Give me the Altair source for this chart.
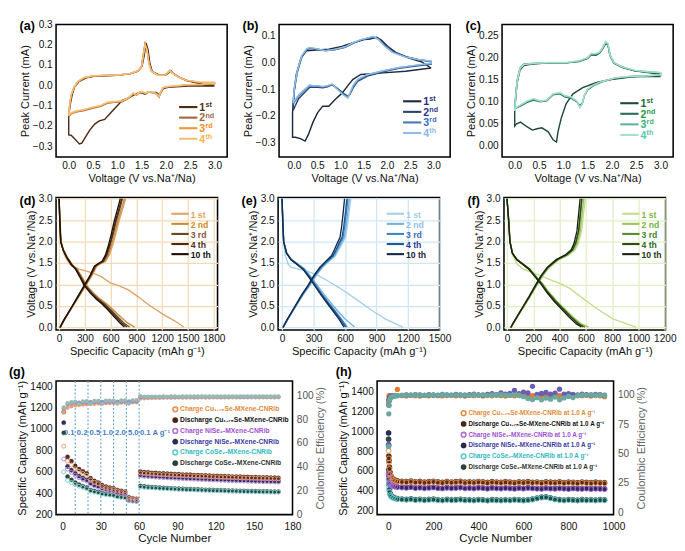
import altair as alt
import pandas as pd

FONT = "Liberation Sans"
INK = "#111111"

# ======================= (a) CV Cu1.75Se-MXene-CNRib =======================
A1_V = [3.0, 2.47, 2.04, 1.94, 1.87, 1.80, 1.63, 1.57, 1.47, 1.37, 1.23, 1.10, 1.00, 0.86, 0.74, 0.63, 0.54, 0.44, 0.36, 0.27, 0.22, 0.13, 0.05, 0.0,
        0.0, 0.03, 0.07, 0.12, 0.21, 0.36, 0.52, 1.00, 1.26, 1.43, 1.51, 1.55, 1.59, 1.63, 1.67, 1.72, 1.87, 1.99, 2.06, 2.10, 2.15, 2.26, 2.44, 2.71, 3.0]
A1_I = [-0.003, -0.003, -0.009, -0.016, -0.047, -0.034, -0.034, -0.043, -0.034, -0.043, -0.062, -0.074, -0.100, -0.136, -0.167, -0.174, -0.189, -0.217, -0.248, -0.284, -0.288, -0.264, -0.245, -0.243,
        -0.155, -0.096, -0.047, -0.008, 0.019, 0.037, 0.045, 0.050, 0.057, 0.070, 0.096, 0.143, 0.209, 0.178, 0.109, 0.068, 0.050, 0.050, 0.062, 0.073, 0.059, 0.042, 0.023, 0.008, -0.003]
A_V = [0.0, 0.02, 0.05, 0.11, 0.19, 0.32, 0.49, 0.73, 1.00, 1.26, 1.43, 1.50, 1.53, 1.57, 1.61, 1.65, 1.70, 1.84, 1.97, 2.04, 2.08, 2.14, 2.24, 2.41, 2.68, 3.0,
       3.0, 2.74, 2.47, 2.20, 2.04, 1.94, 1.88, 1.86, 1.80, 1.70, 1.63, 1.59, 1.53, 1.45, 1.40, 1.33, 1.23, 1.10, 0.93, 0.79, 0.66, 0.49, 0.32, 0.15, 0.05, 0.0]
A2_I = [-0.153, -0.097, -0.050, -0.010, 0.018, 0.037, 0.045, 0.049, 0.050, 0.058, 0.071, 0.095, 0.145, 0.206, 0.180, 0.112, 0.071, 0.050, 0.050, 0.063, 0.073, 0.060, 0.043, 0.025, 0.015, 0.012,
        0.008, 0.004, 0.002, -0.004, -0.007, -0.013, -0.041, -0.057, -0.041, -0.035, -0.032, -0.041, -0.035, -0.036, -0.048, -0.041, -0.064, -0.080, -0.083, -0.088, -0.103, -0.112, -0.123, -0.131, -0.140, -0.153]
A3_I = [-0.150, -0.095, -0.048, -0.009, 0.019, 0.038, 0.046, 0.049, 0.050, 0.058, 0.072, 0.094, 0.142, 0.203, 0.177, 0.110, 0.070, 0.050, 0.050, 0.062, 0.073, 0.059, 0.043, 0.025, 0.016, 0.014,
        0.010, 0.005, 0.003, -0.003, -0.006, -0.012, -0.039, -0.055, -0.040, -0.034, -0.031, -0.040, -0.034, -0.034, -0.047, -0.039, -0.062, -0.078, -0.081, -0.085, -0.100, -0.109, -0.120, -0.128, -0.137, -0.150]
A4_I = [-0.147, -0.093, -0.047, -0.008, 0.020, 0.039, 0.047, 0.050, 0.051, 0.059, 0.073, 0.093, 0.140, 0.200, 0.175, 0.109, 0.070, 0.050, 0.050, 0.062, 0.072, 0.059, 0.043, 0.026, 0.017, 0.016,
        0.012, 0.006, 0.004, -0.002, -0.005, -0.011, -0.037, -0.053, -0.039, -0.033, -0.030, -0.039, -0.033, -0.033, -0.045, -0.038, -0.060, -0.076, -0.079, -0.083, -0.098, -0.107, -0.118, -0.126, -0.135, -0.147]
A_COLORS = ["#4b2c17", "#a0693f", "#ee9a3a", "#f5be78"]
A_TEXT = ["#4d2f1c", "#9c6b45", "#f08c1e", "#f7b44c"]

# ======================= (b) CV NiSe2-MXene-CNRib =======================
B1_V = [2.95, 2.40, 1.92, 1.44, 1.27, 1.16, 1.03, 0.89, 0.75, 0.62, 0.51, 0.41, 0.31, 0.24, 0.14, 0.03, -0.03,
        -0.03, 0.0, 0.05, 0.15, 0.27, 0.48, 0.75, 1.03, 1.27, 1.51, 1.64, 1.78, 1.88, 2.02, 2.19, 2.47, 2.74, 2.95]
B1_I = [-0.020, -0.032, -0.038, -0.044, -0.062, -0.086, -0.115, -0.137, -0.163, -0.163, -0.187, -0.223, -0.270, -0.294, -0.285, -0.280, -0.280,
        -0.187, -0.115, -0.044, 0.018, 0.045, 0.048, 0.051, 0.061, 0.075, 0.087, 0.089, 0.096, 0.085, 0.061, 0.039, 0.018, 0.004, -0.020]
B_V = [-0.02, 0.01, 0.07, 0.17, 0.27, 0.33, 0.45, 0.68, 0.89, 1.10, 1.27, 1.44, 1.58, 1.71, 1.82, 1.95, 2.12, 2.40, 2.67, 2.95,
       2.95, 2.67, 2.26, 1.92, 1.58, 1.37, 1.27, 1.20, 1.16, 1.06, 0.92, 0.82, 0.72, 0.62, 0.51, 0.41, 0.34, 0.24, 0.10, -0.02]
B2_I = [-0.180, -0.100, -0.038, 0.022, 0.048, 0.054, 0.052, 0.046, 0.050, 0.058, 0.073, 0.085, 0.091, 0.095, 0.090, 0.066, 0.042, 0.023, 0.012, 0.004,
        -0.005, -0.011, -0.021, -0.034, -0.050, -0.070, -0.095, -0.120, -0.126, -0.114, -0.094, -0.083, -0.090, -0.094, -0.092, -0.092, -0.092, -0.110, -0.135, -0.180]
B3_I = [-0.155, -0.095, -0.034, 0.025, 0.050, 0.056, 0.053, 0.045, 0.050, 0.059, 0.074, 0.086, 0.092, 0.097, 0.088, 0.064, 0.040, 0.022, 0.012, 0.005,
        -0.003, -0.009, -0.019, -0.031, -0.046, -0.065, -0.090, -0.118, -0.130, -0.118, -0.096, -0.081, -0.088, -0.091, -0.088, -0.088, -0.086, -0.102, -0.126, -0.155]
B4_I = [-0.150, -0.092, -0.032, 0.027, 0.051, 0.057, 0.054, 0.045, 0.051, 0.060, 0.075, 0.087, 0.093, 0.099, 0.087, 0.063, 0.039, 0.021, 0.012, 0.006,
        -0.002, -0.008, -0.018, -0.030, -0.044, -0.062, -0.086, -0.115, -0.133, -0.121, -0.098, -0.080, -0.086, -0.089, -0.086, -0.086, -0.083, -0.098, -0.121, -0.150]
B_COLORS = ["#1e2a40", "#2e4470", "#4a7ab8", "#8ebde6"]
B_TEXT = ["#2e2e80", "#2e3890", "#3a70c0", "#8ab8e8"]

# ======================= (c) CV CoSe2-MXene-CNRib =======================
C1_V = [3.0, 2.47, 1.94, 1.67, 1.40, 1.20, 1.06, 0.96, 0.89, 0.86, 0.79, 0.69, 0.56, 0.46, 0.36, 0.26, 0.12, 0.04, 0.0,
        0.0, 0.02, 0.05, 0.11, 0.19, 0.39, 0.73, 1.06, 1.33, 1.50, 1.57, 1.67, 1.74, 1.80, 1.87, 1.92, 1.96, 2.04, 2.21, 2.47, 2.74, 3.0]
C1_I = [0.157, 0.157, 0.150, 0.143, 0.132, 0.118, 0.096, 0.064, 0.032, 0.009, 0.014, 0.032, 0.041, 0.039, 0.036, 0.043, 0.054, 0.050, 0.045,
        0.076, 0.108, 0.143, 0.172, 0.182, 0.186, 0.188, 0.188, 0.192, 0.199, 0.206, 0.205, 0.210, 0.220, 0.235, 0.228, 0.205, 0.188, 0.178, 0.170, 0.166, 0.162]
C_V = [0.0, 0.02, 0.05, 0.11, 0.19, 0.39, 0.73, 1.06, 1.33, 1.50, 1.57, 1.67, 1.74, 1.80, 1.87, 1.92, 1.96, 2.04, 2.21, 2.47, 2.74, 3.0,
       3.0, 2.74, 2.34, 2.07, 1.80, 1.63, 1.50, 1.43, 1.39, 1.34, 1.28, 1.16, 1.03, 0.93, 0.79, 0.66, 0.52, 0.39, 0.26, 0.12, 0.02, 0.0]
C2_I = [0.083, 0.113, 0.148, 0.176, 0.185, 0.186, 0.188, 0.188, 0.191, 0.198, 0.207, 0.207, 0.210, 0.218, 0.231, 0.229, 0.205, 0.188, 0.178, 0.170, 0.167, 0.164,
        0.160, 0.158, 0.156, 0.153, 0.145, 0.137, 0.127, 0.113, 0.097, 0.091, 0.100, 0.108, 0.111, 0.118, 0.116, 0.102, 0.100, 0.104, 0.099, 0.090, 0.085, 0.083]
C3_I = [0.081, 0.112, 0.147, 0.176, 0.185, 0.187, 0.188, 0.188, 0.192, 0.199, 0.208, 0.208, 0.211, 0.220, 0.234, 0.231, 0.206, 0.189, 0.179, 0.171, 0.168, 0.166,
        0.161, 0.159, 0.157, 0.154, 0.146, 0.138, 0.128, 0.113, 0.095, 0.088, 0.101, 0.110, 0.113, 0.120, 0.117, 0.103, 0.101, 0.106, 0.101, 0.092, 0.086, 0.081]
C4_I = [0.079, 0.111, 0.146, 0.175, 0.184, 0.187, 0.189, 0.189, 0.193, 0.200, 0.209, 0.209, 0.212, 0.221, 0.236, 0.232, 0.207, 0.189, 0.179, 0.171, 0.168, 0.166,
        0.161, 0.159, 0.157, 0.154, 0.146, 0.139, 0.129, 0.114, 0.096, 0.087, 0.102, 0.111, 0.114, 0.121, 0.118, 0.104, 0.102, 0.107, 0.102, 0.093, 0.086, 0.079]
C_COLORS = ["#1f4a3a", "#2e6e55", "#5fb59a", "#a6e0cc"]
C_TEXT = ["#1a6a3a", "#1f9a4a", "#3ab07a", "#5ac8b0"]

# ======================= (d) GCD Cu1.75Se =======================
D1_DIS_V = [3.0, 2.5, 2.0, 1.73, 1.58, 1.43, 1.36, 1.28, 1.19, 1.04, 0.97, 0.87, 0.72, 0.50, 0.31, 0.15, 0.01]
D1_DIS_CAP = [0, 10, 25, 54, 90, 144, 234, 378, 486, 594, 702, 810, 918, 1062, 1206, 1350, 1450]
D_DIS_V = [3.0, 2.5, 2.0, 1.81, 1.64, 1.47, 1.36, 1.17, 0.97, 0.80, 0.66, 0.54, 0.40, 0.25, 0.10, 0.01]
D_DIS_CAP_2 = [0, 8, 20, 50, 95, 152, 210, 268, 325, 402, 480, 558, 636, 715, 800, 880]
D_DIS_CAP_3 = [0, 7, 19, 47, 90, 146, 201, 257, 312, 386, 460, 534, 608, 682, 757, 820]
D_DIS_CAP_4 = [0, 7, 18, 46, 88, 142, 196, 250, 303, 375, 447, 519, 591, 662, 734, 790]
D_DIS_CAP_10 = [0, 7, 18, 45, 86, 138, 190, 242, 294, 364, 434, 503, 572, 641, 712, 760]
D_CHG_V = [0.0, 0.16, 0.46, 0.76, 1.00, 1.22, 1.43, 1.49, 1.54, 1.69, 1.92, 2.18, 2.48, 2.78, 3.0]
D_CHG_CAP_1 = [12, 56, 150, 243, 318, 386, 440, 490, 540, 585, 624, 660, 698, 742, 775]
D_CHG_CAP_2 = [12, 55, 148, 240, 313, 380, 432, 480, 528, 572, 610, 646, 684, 728, 760]
D_CHG_CAP_3 = [11, 53, 144, 234, 306, 371, 421, 468, 515, 558, 594, 630, 666, 709, 738]
D_CHG_CAP_4 = [10, 52, 142, 232, 303, 368, 418, 464, 510, 552, 588, 622, 657, 698, 728]
D_CHG_CAP_10 = [10, 50, 140, 228, 298, 362, 410, 455, 500, 540, 575, 608, 642, 683, 712]
D_COLORS = ["#dba46a", "#c98a3c", "#6e4526", "#4a2c16", "#1c120a"]
D_TEXT = ["#e0a060", "#d08a1a", "#8a5530", "#4a3020", "#111111"]

# ======================= (e) GCD NiSe2 =======================
E1_DIS_V = [3.0, 2.5, 2.0, 1.69, 1.47, 1.40, 1.36, 1.30, 1.22, 1.10, 0.93, 0.69, 0.43, 0.20, 0.01]
E1_DIS_CAP = [0, 6, 15, 29, 59, 88, 161, 249, 337, 425, 542, 688, 835, 981, 1150]
E_DIS_V = [3.0, 2.5, 2.0, 1.73, 1.58, 1.47, 1.36, 1.17, 0.97, 0.76, 0.57, 0.39, 0.20, 0.01]
E_DIS_CAP_2 = [0, 6, 16, 46, 92, 154, 215, 278, 340, 403, 466, 528, 600, 690]
E_DIS_CAP_3 = [0, 6, 15, 44, 88, 148, 207, 267, 326, 386, 445, 504, 564, 620]
E_DIS_CAP_4 = [0, 6, 15, 43, 87, 145, 203, 262, 320, 379, 437, 495, 553, 605]
E_DIS_CAP_10 = [0, 6, 15, 42, 85, 142, 198, 256, 312, 370, 427, 483, 540, 590]
E_CHG_V = [0.0, 0.16, 0.46, 0.76, 0.97, 1.21, 1.40, 1.54, 1.67, 1.81, 1.96, 2.10, 2.33, 2.63, 3.0]
E_CHG_CAP_1 = [10, 47, 124, 200, 262, 325, 386, 447, 508, 540, 572, 603, 620, 636, 655]
E_CHG_CAP_2 = [10, 46, 122, 197, 258, 320, 380, 440, 500, 531, 562, 592, 608, 624, 642]
E_CHG_CAP_3 = [9, 45, 119, 193, 253, 313, 372, 432, 490, 521, 550, 580, 595, 610, 628]
E_CHG_CAP_4 = [9, 44, 117, 190, 249, 308, 366, 425, 483, 513, 542, 571, 586, 601, 618]
E_CHG_CAP_10 = [8, 42, 114, 186, 244, 302, 358, 415, 470, 498, 525, 552, 566, 580, 595]
E_COLORS = ["#a6cfe6", "#74b3dc", "#3e86c4", "#1f5a98", "#162a4a"]
E_TEXT = ["#9ecbe8", "#8cc0e6", "#3a6cc0", "#2a3a9a", "#1a2040"]

# ======================= (f) GCD CoSe2 =======================
F1_DIS_V = [3.0, 2.5, 2.0, 1.69, 1.47, 1.36, 1.25, 1.13, 1.02, 0.91, 0.69, 0.43, 0.20, 0.01]
F1_DIS_CAP = [0, 14, 23, 42, 77, 124, 218, 312, 406, 477, 571, 688, 805, 981]
F_DIS_V = [3.0, 2.5, 2.0, 1.73, 1.58, 1.47, 1.36, 1.19, 1.02, 0.82, 0.61, 0.43, 0.25, 0.09, 0.01]
F_DIS_CAP_2 = [0, 13, 23, 43, 79, 127, 175, 223, 271, 320, 380, 440, 500, 560, 620]
F_DIS_CAP_3 = [0, 13, 23, 42, 77, 124, 171, 218, 265, 312, 371, 430, 488, 547, 594]
F_DIS_CAP_4 = [0, 12, 22, 41, 76, 123, 169, 216, 263, 310, 368, 426, 484, 541, 580]
F_DIS_CAP_10 = [0, 12, 22, 40, 74, 120, 165, 210, 256, 302, 358, 414, 470, 525, 565]
F_CHG_V = [0.0, 0.13, 0.43, 0.72, 0.97, 1.21, 1.40, 1.58, 1.69, 1.81, 1.96, 2.25, 2.63, 3.0]
F_CHG_CAP_1 = [32, 56, 117, 177, 226, 275, 323, 396, 470, 518, 543, 568, 581, 596]
F_CHG_CAP_2 = [31, 55, 115, 174, 222, 270, 318, 390, 462, 510, 534, 558, 570, 584]
F_CHG_CAP_3 = [30, 54, 113, 171, 218, 265, 312, 383, 453, 500, 524, 547, 559, 571]
F_CHG_CAP_4 = [29, 53, 112, 170, 217, 264, 311, 381, 452, 498, 521, 544, 556, 568]
F_CHG_CAP_10 = [28, 52, 110, 167, 213, 259, 305, 374, 443, 488, 510, 532, 544, 556]
F_COLORS = ["#c5dc8e", "#9dc45c", "#5e8c2c", "#2f4a1c", "#1a2414"]
F_TEXT = ["#7cbc3a", "#6cb840", "#3c8a30", "#2a6a30", "#1a3a20"]

# ======================= (g) rate performance =======================
G_CYC = [1, 4, 7, 10, 13, 16, 19, 22, 25, 28, 31, 34, 37, 40, 43, 46, 49, 52, 55, 58,
         61, 64, 67, 70, 73, 76, 79, 82, 85, 88, 91, 94, 97, 100, 103, 106, 109, 112, 115, 118,
         121, 124, 127, 130, 133, 136, 139, 142, 145, 148, 151, 154, 157, 160, 163, 166, 169]
G_CU_D = [1160, 740, 700, 655, 625, 605, 585, 540, 515, 500, 475, 462, 452, 445, 430, 422, 415, 360, 352, 348,
          603, 598, 596, 591, 590, 586, 585, 584, 580, 579, 578, 575, 574, 573, 570, 569, 568, 567, 564, 563,
          563, 560, 559, 558, 556, 556, 555, 553, 552, 550, 550, 549, 547, 547, 546, 545, 544]
G_CU_C = [840, 700, 665, 628, 605, 585, 568, 525, 502, 488, 462, 450, 442, 436, 420, 413, 407, 352, 346, 342,
          590, 586, 584, 580, 579, 575, 574, 573, 570, 569, 568, 565, 564, 563, 561, 559, 558, 557, 555, 554,
          553, 551, 550, 549, 547, 547, 546, 544, 543, 542, 541, 540, 539, 538, 537, 536, 535]
G_NI_D = [1060, 650, 615, 585, 560, 540, 525, 495, 478, 466, 450, 440, 432, 426, 410, 402, 396, 345, 338, 334,
          572, 568, 565, 562, 560, 557, 556, 553, 551, 549, 548, 546, 544, 542, 541, 539, 538, 536, 535, 533,
          532, 531, 529, 528, 527, 525, 524, 523, 522, 520, 519, 518, 517, 516, 515, 514, 513]
G_NI_C = [720, 625, 595, 568, 545, 528, 514, 484, 468, 457, 441, 432, 425, 420, 403, 396, 391, 338, 332, 329,
          562, 558, 556, 553, 550, 548, 546, 544, 542, 540, 538, 536, 535, 533, 531, 530, 528, 527, 525, 524,
          523, 521, 520, 519, 517, 516, 515, 514, 513, 511, 510, 509, 508, 507, 506, 505, 504]
G_CO_D = [965, 555, 525, 500, 480, 465, 452, 430, 420, 412, 400, 394, 389, 385, 372, 366, 362, 335, 330, 326,
          468, 463, 460, 457, 455, 452, 450, 448, 446, 444, 442, 441, 439, 438, 436, 435, 433, 432, 431, 429,
          428, 427, 426, 425, 424, 423, 422, 421, 420, 420, 419, 418, 417, 417, 416, 415, 415]
G_CO_C = [600, 520, 500, 482, 466, 454, 442, 420, 411, 404, 392, 387, 383, 379, 366, 361, 357, 329, 325, 322,
          458, 455, 452, 450, 448, 445, 444, 442, 440, 438, 436, 435, 433, 432, 431, 429, 428, 427, 425, 424,
          423, 422, 421, 420, 419, 418, 417, 416, 415, 415, 414, 413, 412, 412, 411, 410, 410]
G_CU_E = [86.0, 89.5, 90.8, 91.5, 91.8, 92.2, 92.5, 92.7, 92.9, 93.1, 93.2, 93.4, 93.5, 93.6, 93.7, 93.8, 93.9, 94.0, 94.1, 94.2,
          97.2, 97.5, 97.6, 97.7, 97.8, 97.8, 97.9, 98.0, 97.9, 98.0, 98.1, 98.0, 98.1, 98.1, 98.0, 98.1, 98.2, 98.1, 98.1, 98.2,
          98.2, 98.1, 98.2, 98.2, 98.3, 98.2, 98.2, 98.3, 98.2, 98.3, 98.3, 98.2, 98.3, 98.3, 98.3, 98.2, 98.3]
G_NI_E = [89.0, 92.5, 93.2, 93.6, 93.8, 94.0, 94.1, 94.2, 94.3, 94.4, 94.5, 94.5, 94.6, 94.6, 94.7, 94.7, 94.8, 94.8, 94.9, 94.9,
          98.3, 98.4, 98.4, 98.5, 98.5, 98.5, 98.6, 98.5, 98.6, 98.6, 98.5, 98.6, 98.6, 98.7, 98.6, 98.6, 98.7, 98.6, 98.7, 98.7,
          98.6, 98.7, 98.7, 98.6, 98.7, 98.7, 98.7, 98.6, 98.7, 98.7, 98.7, 98.7, 98.6, 98.7, 98.7, 98.7, 98.7]
G_CO_E = [89.8, 93.5, 94.2, 94.6, 92.6, 95.0, 95.1, 92.8, 95.3, 95.3, 92.9, 95.5, 95.5, 95.6, 93.0, 95.7, 95.7, 93.1, 95.8, 95.9,
          99.4, 98.8, 98.8, 98.9, 98.9, 98.9, 99.0, 98.9, 99.0, 99.0, 98.9, 99.0, 99.0, 99.1, 99.0, 99.0, 99.1, 99.0, 99.1, 99.1,
          99.0, 99.1, 99.1, 99.0, 99.1, 99.1, 99.1, 99.0, 99.1, 99.1, 99.1, 99.1, 99.0, 99.1, 99.1, 99.1, 99.1]
G_RATE_CHANGES = [10, 20, 30, 40, 50, 60]
G_RATE_LABELS = ["0.1", "0.2", "0.5", "1.0", "2.0", "5.0", "0.1 A g\u207b\u00b9"]
G_RATE_X = [1, 11.2, 21.2, 31.2, 41.2, 51.2, 60.6]
G_RATE_Y = [960, 960, 960, 960, 960, 960, 960]

# ======================= (h) long cycling at 1.0 A/g =======================
H_CYC = [1, 2, 3, 5, 8, 12, 20, 30, 40,
         60, 80, 100, 120, 140, 160, 180, 200, 220, 240, 260, 280, 300, 320, 340, 360, 380, 400, 420, 440,
         460, 480, 500, 520, 540, 560, 580, 600, 620, 640, 660, 680, 700, 720, 740, 760, 780, 800, 820, 840,
         860, 880, 900, 920, 940, 960]
H_CU_D = [860, 752, 705, 640, 585, 548, 522, 508, 500,
          497, 494, 499, 491, 495, 488, 493, 497, 490, 486, 494, 489, 492, 496, 487, 491, 488, 494, 490, 485,
          492, 489, 486, 493, 488, 484, 491, 487, 492, 486, 489, 483, 490, 487, 485, 491, 484, 488, 486, 482,
          489, 485, 483, 487, 484, 482]
H_CU_C = [805, 728, 684, 622, 570, 535, 512, 500, 492,
          489, 486, 491, 484, 488, 481, 486, 490, 483, 479, 487, 482, 485, 489, 480, 484, 481, 487, 483, 478,
          485, 482, 479, 486, 481, 477, 484, 480, 485, 479, 482, 476, 483, 480, 478, 484, 477, 481, 479, 475,
          482, 478, 476, 480, 477, 475]
H_NI_D = [985, 612, 545, 502, 476, 462, 452, 446, 441,
          437, 434, 439, 431, 435, 429, 433, 437, 430, 427, 434, 430, 432, 436, 428, 431, 427, 433, 430, 425,
          432, 428, 426, 431, 427, 424, 430, 426, 432, 428, 425, 423, 429, 426, 424, 428, 425, 422, 427, 424,
          423, 426, 422, 425, 423, 421]
H_NI_C = [575, 558, 522, 490, 468, 456, 447, 441, 437,
          433, 430, 435, 427, 431, 425, 429, 433, 426, 423, 430, 426, 428, 432, 424, 427, 423, 429, 426, 421,
          428, 424, 422, 427, 423, 420, 426, 422, 428, 424, 421, 419, 425, 422, 420, 424, 421, 418, 423, 420,
          419, 422, 418, 421, 419, 417]
H_CO_D = [922, 560, 468, 410, 372, 350, 336, 327, 321,
          317, 314, 318, 311, 315, 309, 313, 316, 310, 307, 313, 309, 311, 315, 308, 310, 306, 312, 309, 305,
          311, 308, 306, 310, 307, 312, 309, 306, 310, 316, 326, 336, 338, 328, 317, 311, 307, 312, 309, 306,
          311, 308, 310, 307, 311, 309]
H_CO_C = [520, 472, 430, 390, 360, 342, 330, 321, 316,
          312, 309, 313, 306, 310, 304, 308, 311, 305, 302, 308, 304, 306, 310, 303, 305, 301, 307, 304, 300,
          306, 303, 301, 305, 302, 307, 304, 301, 305, 311, 321, 331, 333, 323, 312, 306, 302, 307, 304, 301,
          306, 303, 305, 302, 306, 304]
H_CU_E = [94.0, 96.5, 99.5, 99.0, 99.2, 99.6, 99.4, 99.6, 104.8,
          99.6, 99.3, 99.8, 99.5, 99.2, 99.7, 99.4, 99.9, 99.5, 99.3, 99.6, 99.8, 99.4, 99.6, 99.2, 99.7, 99.5, 99.9, 99.3, 99.6,
          99.4, 99.8, 99.5, 99.2, 99.7, 99.4, 99.6, 99.9, 99.3, 99.5, 99.8, 99.4, 99.6, 99.2, 99.7, 99.5, 99.3, 99.8, 99.4, 99.6,
          99.5, 99.7, 99.3, 99.6, 99.4, 98.6]
H_NI_E = [58.0, 91.5, 95.8, 97.6, 98.5, 99.0, 99.3, 99.5, 99.6,
          99.8, 100.2, 99.9, 100.4, 100.1, 99.7, 100.3, 100.0, 99.8, 100.5, 100.2, 99.9, 100.6, 100.1, 99.8, 100.3, 100.9, 100.2, 99.9, 100.6,
          101.2, 100.4, 101.8, 100.9, 101.5, 104.0, 101.2, 102.6, 101.9, 107.5, 100.6, 101.4, 102.2, 100.8, 101.6, 105.0, 100.9, 101.3, 100.5, 100.2,
          100.7, 100.4, 100.1, 100.6, 100.3, 99.9]
H_CO_E = [56.0, 84.0, 91.0, 95.0, 97.0, 98.0, 98.8, 99.2, 99.5,
          99.8, 100.1, 99.9, 100.3, 100.0, 99.8, 100.2, 100.1, 99.9, 100.3, 100.0, 99.8, 100.2, 99.9, 100.1, 99.7, 100.3, 99.9, 100.2, 99.8,
          100.1, 99.9, 100.3, 100.0, 99.8, 100.2, 99.9, 98.6, 97.0, 96.2, 97.8, 95.9, 97.4, 96.5, 98.3, 96.0, 97.6, 98.8, 97.9, 99.5,
          100.1, 99.8, 100.2, 99.9, 100.0, 99.7]

SER9 = ["CuD", "CuC", "NiD", "NiC", "CoD", "CoC", "CuE", "NiE", "CoE"]
G_SER_COLORS = ["#5a2d1c", "#f0a070", "#2e2c60", "#b088d8", "#2c4c44", "#80d0d0", "#eba070", "#9a8cc8", "#96bab2"]
H_SER_COLORS = ["#5a2d1c", "#e8904a", "#2c2a5c", "#a868d8", "#2a4a42", "#5cc8c8", "#e07a30", "#6c5cb0", "#6aa89e"]

LEG_G = ["Charge Cu\u2081.\u2087\u2085Se-MXene-CNRib", "Discharge Cu\u2081.\u2087\u2085Se-MXene-CNRib",
         "Charge NiSe\u2082-MXene-CNRib", "Discharge NiSe\u2082-MXene-CNRib",
         "Charge CoSe\u2082-MXene-CNRib", "Discharge CoSe\u2082-MXene-CNRib"]
LEG_H = [t + " at 1.0 A g\u207b\u00b9" for t in LEG_G]
LEG_MARK = ["#e8904a", "#4a2418", "#b070d8", "#2a2858", "#5cc8c8", "#24453c"]
LEG_TEXT = ["#e08a3a", "#111111", "#a050d0", "#3a3aa0", "#30b8c0", "#333333"]
LEG_FILLED = [False, True, False, True, False, True]

W1, H1 = 178, 138
W2, H2 = 168, 138
W3, H3 = 246, 139

V_TITLE = "Voltage (V vs.Na\u207a/Na)"
CAP_TITLE = "Specific Capacity (mAh g\u207b\u00b9)"


def frame(groups):
    rows = []
    for ser, br, xs, ys in groups:
        assert len(xs) == len(ys), (ser, br, len(xs), len(ys))
        for k, (x, y) in enumerate(zip(xs, ys)):
            rows.append({"ser": ser, "br": br, "x": x, "y": y, "k": k})
    return pd.DataFrame(rows)


def make_axis(values, fmt, title, grid_color=None, **kw):
    args = dict(values=values, format=fmt, title=title, grid=grid_color is not None)
    if grid_color is not None:
        args["gridColor"] = grid_color
        args["gridWidth"] = 1.3
    args.update(kw)
    return alt.Axis(**args)


def line_chart(df, xdom, ydom, xax, yax, ser_dom, ser_col, sw=1.5):
    return alt.Chart(df).mark_line(strokeWidth=sw, clip=True).encode(
        x=alt.X("x:Q", scale=alt.Scale(domain=xdom, nice=False, zero=False), axis=xax),
        y=alt.Y("y:Q", scale=alt.Scale(domain=ydom, nice=False, zero=False), axis=yax),
        color=alt.Color("ser:N", scale=alt.Scale(domain=ser_dom, range=ser_col), legend=None),
        detail="br:N",
        order="k:Q",
    )


def line_legend(items, x0, y0, dy, seg, fs, sup_fs=None):
    layers = []
    for i, (txt, sup, lc, tc) in enumerate(items):
        y = y0 + i * dy
        d = pd.DataFrame({"t": [txt], "s": [sup]})
        layers.append(alt.Chart(d).mark_rule(color=lc, strokeWidth=2.2).encode(
            x=alt.value(x0), x2=alt.value(x0 + seg), y=alt.value(y)))
        layers.append(alt.Chart(d).mark_text(align="left", baseline="middle", font=FONT, fontSize=fs,
                                             fontWeight="bold", color=tc).encode(
            x=alt.value(x0 + seg + 2), y=alt.value(y + 1), text="t:N"))
        if sup:
            layers.append(alt.Chart(d).mark_text(align="left", baseline="middle", font=FONT, fontSize=sup_fs,
                                                 fontWeight="bold", color=tc).encode(
                x=alt.value(x0 + seg + 2 + 0.58 * fs), y=alt.value(y - 2), text="s:N"))
    return layers


def point_legend(items, x0, y0, dy, fs, msize):
    layers = []
    for i, (txt, filled, mc, tc) in enumerate(items):
        y = y0 + i * dy
        d = pd.DataFrame({"t": [txt]})
        if filled:
            m = alt.Chart(d).mark_circle(size=msize, color=mc, opacity=1, stroke="#111111", strokeWidth=0.4)
        else:
            m = alt.Chart(d).mark_point(size=msize * 0.8, color=mc, filled=False, strokeWidth=1.6, opacity=1)
        layers.append(m.encode(x=alt.value(x0), y=alt.value(y)))
        layers.append(alt.Chart(d).mark_text(align="left", baseline="middle", font=FONT, fontSize=fs,
                                             fontWeight="bold", color=tc).encode(
            x=alt.value(x0 + 5), y=alt.value(y), text="t:N"))
    return layers


def plabel(t, x, y):
    return alt.Chart(pd.DataFrame({"t": [t]})).mark_text(
        align="left", baseline="middle", font=FONT, fontSize=13, fontWeight="bold", color="black"
    ).encode(x=alt.value(x), y=alt.value(y), text="t:N")


# ---------------- Row 1: CV ----------------
CV_X_VALS = [0.0, 0.5, 1.0, 1.5, 2.0, 2.5, 3.0]
SUP = [("1", "st"), ("2", "nd"), ("3", "rd"), ("4", "th")]


def cv_panel(p, cycles, xdom, ydom, yvals, yfmt, colors, tcolors, lx, ly, lab):
    ser_dom = [p + str(i) for i in range(1, 5)]
    df = frame([(p + str(i + 1), "a", v, c) for i, (v, c) in enumerate(cycles)])
    xax = make_axis(CV_X_VALS, ".1f", V_TITLE)
    yax = make_axis(yvals, yfmt, "Peak Current (mA)")
    main = line_chart(df, xdom, ydom, xax, yax, ser_dom, colors, sw=1.5)
    items = [(SUP[i][0], SUP[i][1], colors[i], tcolors[i]) for i in range(4)]
    leg = line_legend(items, lx, ly, 11, 19, 11, 7.5)
    return alt.layer(main, *leg, plabel(lab, -38, 2)).properties(width=W1, height=H1)


pa = cv_panel("a", [(A1_V, A1_I), (A_V, A2_I), (A_V, A3_I), (A_V, A4_I)], [-0.26, 3.26], [-0.352, 0.3],
              [-0.3, -0.2, -0.1, 0.0, 0.1, 0.2, 0.3], ".1f", A_COLORS, A_TEXT, 128, 86, "(a)")
pb = cv_panel("b", [(B1_V, B1_I), (B_V, B2_I), (B_V, B3_I), (B_V, B4_I)], [-0.32, 3.36], [-0.354, 0.144],
              [-0.3, -0.2, -0.1, 0.0, 0.1], ".1f", B_COLORS, B_TEXT, 129, 80, "(b)")
pc = cv_panel("c", [(C1_V, C1_I), (C_V, C2_I), (C_V, C3_I), (C_V, C4_I)], [-0.26, 3.26], [-0.025, 0.275],
              [0.0, 0.05, 0.1, 0.15, 0.2, 0.25], ".2f", C_COLORS, C_TEXT, 123, 82, "(c)")

# ---------------- Row 2: GCD ----------------
GCD_LAB = ["1 st", "2 nd", "3 rd", "4 th", "10 th"]
GCD_Y_VALS = [0.0, 0.5, 1.0, 1.5, 2.0, 2.5, 3.0]


def gcd_panel(p, groups, xdom, xvals, colors, tcolors, grid, lx, lab):
    names = [p + "01", p + "02", p + "03", p + "04", p + "10"]
    df = frame([(names[int(i / 2)], "d" if i % 2 == 0 else "c", x, y) for i, (x, y) in enumerate(groups)])
    xax = make_axis(xvals, "d", CAP_TITLE, grid)
    yax = make_axis(GCD_Y_VALS, ".1f", V_TITLE, grid)
    main = line_chart(df, xdom, [-0.06, 3.03], xax, yax, names, colors, sw=1.4)
    items = [(GCD_LAB[i], "", colors[i], tcolors[i]) for i in range(5)]
    leg = line_legend(items, lx, 17, 10.5, 18, 9)
    return alt.layer(main, *leg, plabel(lab, -38, 4)).properties(width=W2, height=H2)


pd_ = gcd_panel("d", [(D1_DIS_CAP, D1_DIS_V), (D_CHG_CAP_1, D_CHG_V), (D_DIS_CAP_2, D_DIS_V), (D_CHG_CAP_2, D_CHG_V),
                      (D_DIS_CAP_3, D_DIS_V), (D_CHG_CAP_3, D_CHG_V), (D_DIS_CAP_4, D_DIS_V), (D_CHG_CAP_4, D_CHG_V),
                      (D_DIS_CAP_10, D_DIS_V), (D_CHG_CAP_10, D_CHG_V)],
                [-36, 1845], [0, 300, 600, 900, 1200, 1500, 1800], D_COLORS, D_TEXT, "#f2dcb8", 120, "(d)")
pe = gcd_panel("e", [(E1_DIS_CAP, E1_DIS_V), (E_CHG_CAP_1, E_CHG_V), (E_DIS_CAP_2, E_DIS_V), (E_CHG_CAP_2, E_CHG_V),
                     (E_DIS_CAP_3, E_DIS_V), (E_CHG_CAP_3, E_CHG_V), (E_DIS_CAP_4, E_DIS_V), (E_CHG_CAP_4, E_CHG_V),
                     (E_DIS_CAP_10, E_DIS_V), (E_CHG_CAP_10, E_CHG_V)],
               [-38, 1500], [0, 300, 600, 900, 1200, 1500], E_COLORS, E_TEXT, "#cfe6f3", 113, "(e)")
pf = gcd_panel("f", [(F1_DIS_CAP, F1_DIS_V), (F_CHG_CAP_1, F_CHG_V), (F_DIS_CAP_2, F_DIS_V), (F_CHG_CAP_2, F_CHG_V),
                     (F_DIS_CAP_3, F_DIS_V), (F_CHG_CAP_3, F_CHG_V), (F_DIS_CAP_4, F_DIS_V), (F_CHG_CAP_4, F_CHG_V),
                     (F_DIS_CAP_10, F_DIS_V), (F_CHG_CAP_10, F_CHG_V)],
               [-23, 1205], [0, 200, 400, 600, 800, 1000, 1200], F_COLORS, F_TEXT, "#e2efc4", 123, "(f)")


# ---------------- Row 3: cycling ----------------
def cyc_frames(p, cyc, cap_map, ce_map):
    cap_rows, ce_rows = [], []
    for ser, vals in cap_map:
        assert len(vals) == len(cyc), ser
        for c, v in zip(cyc, vals):
            cap_rows.append({"cyc": c, "val": v, "ser": p + ser})
    for ser, vals in ce_map:
        assert len(vals) == len(cyc), ser
        for c, v in zip(cyc, vals):
            ce_rows.append({"cyc": c, "ce": v, "ser": p + ser})
    return pd.DataFrame(cap_rows), pd.DataFrame(ce_rows)


def cyc_panel(p, cap_df, ce_df, xdom, xvals, ydom, rdom, rvals, colors, msize, extra_left, leg_layers, lab, lx, ly):
    col = alt.Color("ser:N", scale=alt.Scale(domain=[p + s for s in SER9], range=colors), legend=None)
    xenc = alt.X("cyc:Q", scale=alt.Scale(domain=xdom, nice=False, zero=False),
                 axis=alt.Axis(values=xvals, format="d", title="Cycle Number", titleFontSize=12, labelPadding=7))
    yenc = alt.Y("val:Q", scale=alt.Scale(domain=ydom, nice=False, zero=False),
                 axis=alt.Axis(values=[200, 400, 600, 800, 1000, 1200, 1400], format="d", title=CAP_TITLE))
    dis = alt.Chart(cap_df[cap_df["ser"].str.endswith("D")]).mark_circle(
        size=msize, opacity=1, stroke="#111111", strokeWidth=0.3, clip=True).encode(x=xenc, y=yenc, color=col)
    chg = alt.Chart(cap_df[cap_df["ser"].str.endswith("C")]).mark_point(
        size=msize * 0.85, filled=False, strokeWidth=1.0, opacity=1, clip=True).encode(x=xenc, y=yenc, color=col)
    ce = alt.Chart(ce_df).mark_circle(size=msize, opacity=1, clip=True).encode(
        x=xenc,
        y=alt.Y("ce:Q", scale=alt.Scale(domain=rdom, nice=False, zero=False),
                axis=alt.Axis(orient="right", values=rvals, format="d", title="Coulombic Efficiency (%)",
                              labelColor="#555555", titleColor="#666666",
                              titleAngle=270, titleBaseline="top")),
        color=col)
    left = alt.layer(*extra_left(xenc, yenc), dis, chg)
    return alt.layer(left, ce, *leg_layers, plabel(lab, lx, ly)).resolve_scale(y="independent").properties(
        width=W3, height=H3)


g_cap, g_ce = cyc_frames(
    "g", G_CYC,
    [("CoD", G_CO_D), ("NiD", G_NI_D), ("CuD", G_CU_D), ("CoC", G_CO_C), ("NiC", G_NI_C), ("CuC", G_CU_C)],
    [("CuE", G_CU_E), ("NiE", G_NI_E), ("CoE", G_CO_E)])
h_cap, h_ce = cyc_frames(
    "h", H_CYC,
    [("CoD", H_CO_D), ("NiD", H_NI_D), ("CuD", H_CU_D), ("CoC", H_CO_C), ("NiC", H_NI_C), ("CuC", H_CU_C)],
    [("CuE", H_CU_E), ("NiE", H_NI_E), ("CoE", H_CO_E)])


def g_extra(xenc, yenc):
    rules = alt.Chart(pd.DataFrame({"cyc": G_RATE_CHANGES})).mark_rule(
        strokeDash=[2, 2], color="#5b9bd5", strokeWidth=1.1).encode(x=xenc)
    txt = alt.Chart(pd.DataFrame({"cyc": G_RATE_X, "val": G_RATE_Y, "t": G_RATE_LABELS})).mark_text(
        align="left", baseline="middle", font=FONT, fontSize=8, fontWeight="bold", color="#3f7fc4"
    ).encode(x=xenc, y=yenc, text="t:N")
    return [rules, txt]


def h_extra(xenc, yenc):
    return []


g_leg = point_legend([(LEG_G[i], LEG_FILLED[i], LEG_MARK[i], LEG_TEXT[i]) for i in range(6)], 124, 29.5, 11.2, 7, 30)
h_leg = point_legend([(LEG_H[i], LEG_FILLED[i], LEG_MARK[i], LEG_TEXT[i]) for i in range(6)], 90, 33.5, 11.2, 6.6, 30)

pg = cyc_panel("g", g_cap, g_ce, [-5, 180], [0, 30, 60, 90, 120, 150, 180], [200, 1450], [0, 112],
               [0, 20, 40, 60, 80, 100], G_SER_COLORS, 20, g_extra, g_leg, "(g)", -49, -9)
ph = cyc_panel("h", h_cap, h_ce, [-50, 1000], [0, 200, 400, 600, 800, 1000], [160, 1510], [-2, 112],
               [0, 25, 50, 75, 100], H_SER_COLORS, 30, h_extra, h_leg, "(h)", -43, -9)

row1 = alt.hconcat(pa, pb, pc, spacing=14).resolve_scale(color="independent")
row2 = alt.hconcat(pd_, pe, pf, spacing=15).resolve_scale(color="independent")
row3 = alt.hconcat(pg, ph, spacing=8).resolve_scale(color="independent")

chart = alt.vconcat(row1, row2, row3, spacing=8).resolve_scale(color="independent").properties(
    padding=0
).configure_view(
    stroke="black", strokeWidth=1.6
).configure_axis(
    labelFont=FONT, titleFont=FONT, labelFontSize=10.5, titleFontSize=11.5, titleFontWeight="normal",
    labelColor=INK, titleColor=INK, domain=False, ticks=False,
    labelPadding=4, titlePadding=2, labelFlush=False, grid=False
)

chart.save("out.html", embed_options={"renderer": "svg", "actions": False})
